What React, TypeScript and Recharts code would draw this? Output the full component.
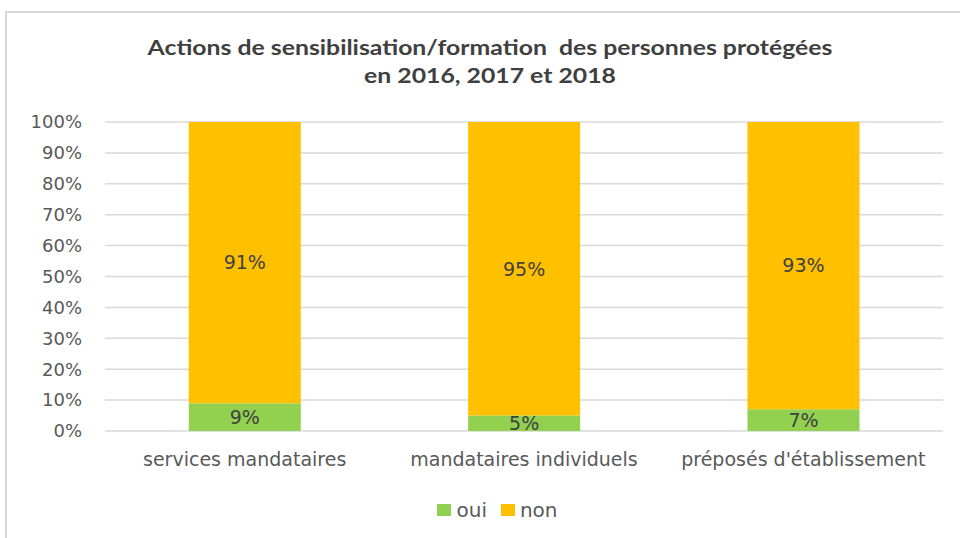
import React from "react";
import { BarChart, Bar, XAxis, YAxis, CartesianGrid, Legend, LabelList } from "recharts";

const categories = ["services mandataires", "mandataires individuels", "préposés d'établissement"];
const ouiValues = [9, 5, 7];
const nonValues = [91, 95, 93];
const yTicks = [0, 10, 20, 30, 40, 50, 60, 70, 80, 90, 100];
const titleLines = ["Actions de sensibilisation/formation  des personnes protégées", "en 2016, 2017 et 2018"];

const data = categories.map((c, i) => ({ name: c, oui: ouiValues[i], non: nonValues[i] }));

const GREEN = "#92D050";
const ORANGE = "#FFC000";
const TEXT = "#595959";
const FONT = "'DejaVu Sans', sans-serif";

const LegendContent = () => (
  <div style={{ height: 37, display: "flex", alignItems: "center", justifyContent: "center", paddingLeft: 52, fontFamily: FONT, fontSize: 20, color: TEXT }}>
    {[{ n: "oui", c: GREEN }, { n: "non", c: ORANGE }].map((it, i) => (
      <div key={it.n} style={{ display: "flex", alignItems: "center", marginLeft: i ? 14 : 0 }}>
        <span style={{ display: "inline-block", width: 14, height: 12, background: it.c, marginRight: 5 }} />
        <span>{it.n}</span>
      </div>
    ))}
  </div>
);

export default function App() {
  return (
    <div style={{ position: "absolute", left: 0, top: 0, width: 960, height: 538, background: "#fff", overflow: "hidden" }}>
      <div style={{ position: "absolute", left: 5, top: 11, width: 960, height: 540, borderTop: "2px solid #d9d9d9", borderLeft: "2px solid #d9d9d9" }} />
      <div style={{ position: "absolute", left: 0, top: 33, width: 980, textAlign: "center", fontFamily: "Lato, sans-serif", fontWeight: 700, fontSize: 21, lineHeight: "28px", color: "#404040" }}>
        {titleLines.map((l) => (
          <div key={l} style={{ whiteSpace: "pre", transform: "scaleX(1.18)" }}>{l}</div>
        ))}
      </div>
      <BarChart
        width={960}
        height={538}
        data={data}
        margin={{ top: 122, right: 17, left: 0, bottom: 10 }}
        barCategoryGap="30%"
        style={{ position: "absolute", left: 0, top: 0 }}
      >
        <CartesianGrid vertical={false} stroke="#d9d9d9" strokeWidth={1.5} />
        <XAxis dataKey="name" axisLine={false} tickLine={false} tickMargin={16} height={60} interval={0}
          tick={{ fill: TEXT, fontSize: 19, fontFamily: FONT }} />
        <YAxis domain={[0, 100]} ticks={yTicks} axisLine={false} tickLine={false} width={105} tickMargin={17}
          tickFormatter={(v) => `${v}%`} tick={{ fill: TEXT, fontSize: 18, fontFamily: FONT }} />
        <Legend verticalAlign="bottom" content={<LegendContent />} />
        <Bar dataKey="oui" stackId="a" fill={GREEN} isAnimationActive={false}>
          <LabelList dataKey="oui" position="center" formatter={(v: any) => `${v}%`} fill="#404040" fontSize={19} fontFamily={FONT} />
        </Bar>
        <Bar dataKey="non" stackId="a" fill={ORANGE} isAnimationActive={false}>
          <LabelList dataKey="non" position="center" formatter={(v: any) => `${v}%`} fill="#404040" fontSize={19} fontFamily={FONT} />
        </Bar>
      </BarChart>
    </div>
  );
}
